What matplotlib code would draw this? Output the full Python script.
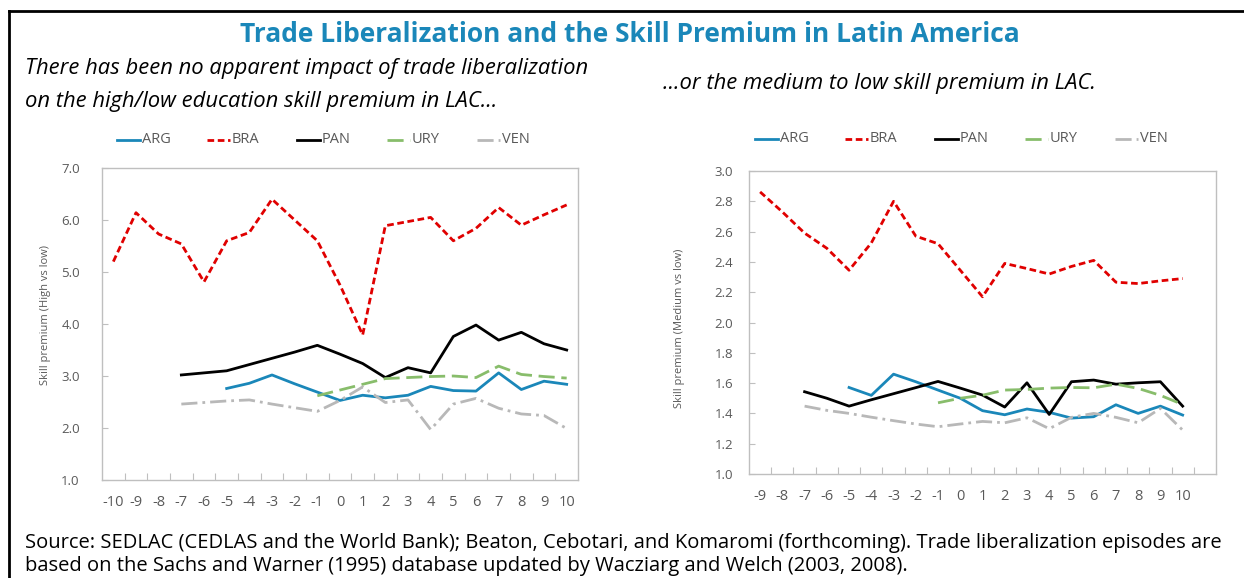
import numpy as np
import matplotlib
matplotlib.use('Agg')
import matplotlib.pyplot as plt
from matplotlib.lines import Line2D

"""
Trade liberalization and the skill premium in Latin America - two panel line chart
"""

nan = np.nan

# years relative to liberalization
years_left = list(range(-10, 11))
years_right = list(range(-9, 11))

# high vs low skill premium (left panel), -10 .. 10
arg_hl = [nan, nan, nan, nan, nan, 2.76, 2.86, 3.02, 2.85, 2.69, 2.53, 2.63, 2.58, 2.63, 2.80, 2.72, 2.71, 3.06, 2.74, 2.90, 2.84]
bra_hl = [5.20, 6.14, 5.73, 5.54, 4.81, 5.60, 5.76, 6.40, 6.00, 5.60, 4.75, 3.79, 5.89, 5.97, 6.05, 5.60, 5.84, 6.24, 5.90, 6.10, 6.29]
pan_hl = [nan, nan, nan, 3.02, 3.06, 3.10, 3.22, 3.34, 3.46, 3.59, 3.42, 3.24, 2.97, 3.16, 3.06, 3.76, 3.98, 3.69, 3.84, 3.62, 3.50]
ury_hl = [nan, nan, nan, nan, nan, nan, nan, nan, nan, 2.62, 2.73, 2.84, 2.95, 2.97, 2.99, 3.00, 2.97, 3.19, 3.03, 2.99, 2.96]
ven_hl = [nan, nan, nan, 2.46, 2.49, 2.52, 2.54, 2.46, 2.39, 2.32, 2.53, 2.79, 2.49, 2.54, 1.97, 2.46, 2.57, 2.38, 2.27, 2.24, 1.99]

# medium vs low skill premium (right panel), -9 .. 10
arg_ml = [nan, nan, nan, nan, 1.571, 1.519, 1.659, 1.609, 1.554, 1.500, 1.418, 1.391, 1.429, 1.407, 1.369, 1.378, 1.457, 1.400, 1.448, 1.389]
bra_ml = [2.862, 2.73, 2.59, 2.49, 2.345, 2.525, 2.80, 2.57, 2.52, 2.345, 2.17, 2.39, 2.356, 2.32, 2.37, 2.41, 2.266, 2.257, 2.275, 2.29]
pan_ml = [nan, nan, 1.543, 1.50, 1.448, 1.49, 1.53, 1.57, 1.611, 1.567, 1.521, 1.442, 1.602, 1.393, 1.609, 1.62, 1.593, 1.602, 1.609, 1.448]
ury_ml = [nan, nan, nan, nan, nan, nan, nan, nan, 1.47, 1.50, 1.52, 1.554, 1.558, 1.567, 1.571, 1.569, 1.593, 1.565, 1.519, 1.459]
ven_ml = [nan, nan, 1.448, 1.42, 1.40, 1.375, 1.352, 1.33, 1.312, 1.33, 1.347, 1.338, 1.371, 1.299, 1.374, 1.40, 1.374, 1.338, 1.433, 1.29]

countries = ['ARG', 'BRA', 'PAN', 'URY', 'VEN']
colors = ['#1a87b9', '#e00000', '#000000', '#88bd6b', '#b8b8b8']
dashes = [None, (2.4, 1.3), None, (5.8, 2.4), (5.8, 1.8, 1.0, 1.8)]

W, H = 1244, 578
fig = plt.figure(figsize=(W / 100, H / 100), dpi=100)
plt.rcParams['font.family'] = ['Open Sans', 'DejaVu Sans']

GRAY = '#595959'
SPINE = '#bfbfbf'


def px_axes(x0, y0, x1, y1):
    # axes from pixel box (top-left origin)
    return fig.add_axes([x0 / W, 1 - y1 / H, (x1 - x0) / W, (y1 - y0) / H])


def style(ax, years, xlim, ylim, yticks, yfmt, ypad):
    ax.set_xlim(*xlim)
    ax.set_ylim(*ylim)
    for s in ax.spines.values():
        s.set_color(SPINE)
        s.set_linewidth(1.0)
    ax.set_yticks(yticks)
    ax.set_yticklabels([yfmt % v for v in yticks])
    ax.tick_params(axis='y', direction='in', length=4.5, color=SPINE, labelcolor=GRAY,
                   labelsize=9.5, pad=ypad)
    ax.set_xticks([y + 0.5 for y in years[:-1]] + ([years[-1] + 0.5] if xlim[1] > years[-1] + 0.6 else []))
    ax.set_xticklabels([])
    ax.set_xticks(years, minor=True)
    ax.set_xticklabels([str(y) for y in years], minor=True)
    ax.tick_params(axis='x', which='major', direction='in', length=5, color=SPINE)
    ax.tick_params(axis='x', which='minor', length=0, labelcolor=GRAY, labelsize=10.5, pad=11)


def legend_row(x_start, y):
    for i, (name, c, d) in enumerate(zip(countries, colors, dashes)):
        x = x_start + 90 * i
        ln = Line2D([x / W, (x + 23) / W], [1 - y / H] * 2, color=c, lw=2, transform=fig.transFigure)
        if d is not None:
            ln.set_dashes(d)
        fig.add_artist(ln)
        fig.text((x + 25) / W, 1 - y / H, name, color=GRAY, fontsize=10.5, va='center', ha='left')


# left panel
ax1 = px_axes(102, 168, 578, 480)
for vals, c, d in zip([arg_hl, bra_hl, pan_hl, ury_hl, ven_hl], colors, dashes):
    ln, = ax1.plot(years_left, vals, color=c, lw=2)
    if d is not None:
        ln.set_dashes(d)
style(ax1, years_left, (-10.5, 10.5), (1.0, 7.0), [1, 2, 3, 4, 5, 6, 7], '%.1f', 16)
ax1.set_ylabel('Skill premium (High vs low)', color=GRAY, fontsize=8)
ax1.yaxis.set_label_coords(-0.107, 0.53)

# right panel
ax2 = px_axes(749, 171, 1216, 474)
for vals, c, d in zip([arg_ml, bra_ml, pan_ml, ury_ml, ven_ml], colors, dashes):
    ln, = ax2.plot(years_right, vals, color=c, lw=2)
    if d is not None:
        ln.set_dashes(d)
style(ax2, years_right, (-9.5, 11.5), (1.0, 3.0), [1.0 + 0.2 * i for i in range(11)], '%.1f', 11.5)
ax2.set_ylabel('Skill premium (Medium vs low)', color=GRAY, fontsize=8)
ax2.yaxis.set_label_coords(-0.138, 0.48)

legend_row(117, 140)
legend_row(755, 139)

# titles
fig.text(630 / W, 1 - 35 / H, 'Trade Liberalization and the Skill Premium in Latin America',
         color='#1a87b9', fontsize=19, fontweight='bold', ha='center', va='center')
fig.text(25 / W, 1 - 69 / H, 'There has been no apparent impact of trade liberalization',
         fontsize=15.8, style='italic', ha='left', va='center')
fig.text(25 / W, 1 - 101 / H, 'on the high/low education skill premium in LAC...',
         fontsize=15.8, style='italic', ha='left', va='center')
fig.text(663 / W, 1 - 84 / H, '...or the medium to low skill premium in LAC.',
         fontsize=15.8, style='italic', ha='left', va='center')

# source note
fig.text(25 / W, 1 - 543 / H, 'Source: SEDLAC (CEDLAS and the World Bank); Beaton, Cebotari, and Komaromi '
         '(forthcoming). Trade liberalization episodes are', fontsize=14.5, ha='left', va='center')
fig.text(25 / W, 1 - 566 / H, 'based on the Sachs and Warner (1995) database updated by Wacziarg and Welch (2003, 2008).',
         fontsize=14.5, ha='left', va='center')

# outer frame
fig.add_artist(Line2D([9 / W, 9 / W], [0, 1 - 11 / H], color='black', lw=2, transform=fig.transFigure))
fig.add_artist(Line2D([9 / W, 1], [1 - 11 / H] * 2, color='black', lw=2, transform=fig.transFigure))

fig.savefig('out.png', dpi=100)
